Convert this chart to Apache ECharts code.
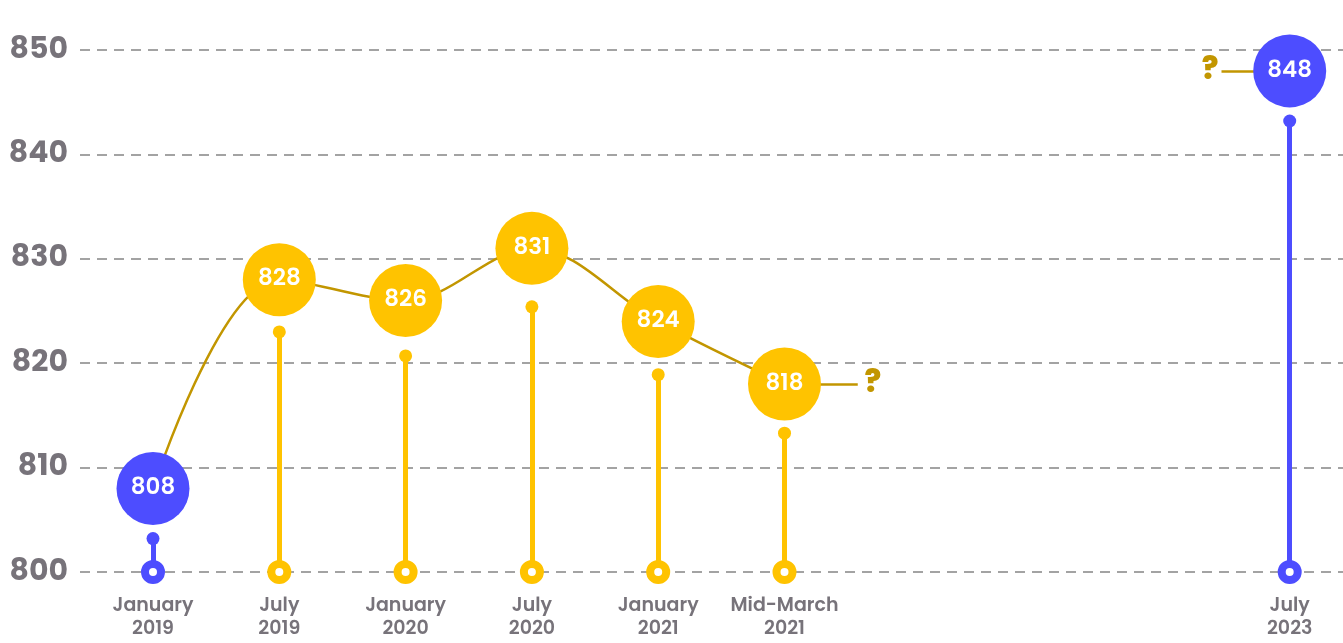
<!DOCTYPE html>
<html>
<head>
<meta charset="utf-8">
<script src="https://cdn.jsdelivr.net/npm/echarts@6/dist/echarts.min.js"></script>
<style>
  html, body { margin: 0; padding: 0; background: #fff; }
  #chart { width: 1343px; height: 643px; }
</style>
</head>
<body>
<div id="chart"></div>
<script>
  // data
  const categories = ['January\n2019', 'July\n2019', 'January\n2020', 'July\n2020', 'January\n2021', 'Mid-March\n2021', 'July\n2023'];
  const slots = [0, 1, 2, 3, 4, 5, 9];
  const values = [808, 828, 826, 831, 824, 818, 848];
  const stemTops = [803.2, 823, 820.7, 825.4, 818.9, 813.3, 843.2];
  const kinds = ['blue', 'gold', 'gold', 'gold', 'gold', 'gold', 'blue'];
  const yTicks = [800, 810, 820, 830, 840, 850];
  // the two open-ended "?" links
  const openLinks = [[[5, 818], [5.58, 818]], [[8.46, 848], [9, 848]]];
  const questionMarks = [[5.7, 818], [8.37, 848]];

  const BLUE = '#4d4dff';
  const GOLD = '#ffc300';
  const LINE = '#c29600';
  const GREY = '#77737a';
  const FONT = 'Poppins, Inter, "Noto Sans", sans-serif';

  const colorOf = k => (k === 'blue' ? BLUE : GOLD);

  const chart = echarts.init(document.getElementById('chart'));

  const option = {
    animation: false,
    grid: { left: 80, right: 0, top: 50, bottom: 71 },
    xAxis: {
      type: 'value',
      min: -0.578,
      max: 9.422,
      axisLine: { show: false },
      axisTick: { show: false },
      splitLine: { show: false },
      axisLabel: {
        customValues: slots,
        formatter: v => categories[slots.indexOf(Math.round(v))] || '',
        color: GREY,
        fontFamily: FONT,
        fontSize: 19,
        fontWeight: 600,
        lineHeight: 23,
        margin: 23
      }
    },
    yAxis: {
      type: 'value',
      min: yTicks[0],
      max: yTicks[yTicks.length - 1],
      interval: 10,
      axisLine: { show: false },
      axisTick: { show: false },
      axisLabel: {
        color: GREY,
        fontFamily: FONT,
        fontSize: 30,
        fontWeight: 700,
        margin: 12
      },
      splitLine: {
        lineStyle: { color: '#a3a3a3', width: 2, type: [10, 7] }
      }
    },
    series: [
      {
        // stems
        type: 'lines',
        coordinateSystem: 'cartesian2d',
        z: 2,
        silent: true,
        data: slots.map((x, i) => ({
          coords: [[x, 800], [x, stemTops[i]]],
          lineStyle: { color: colorOf(kinds[i]), width: 5, opacity: 1 }
        }))
      },
      {
        // dot at stem top
        type: 'scatter',
        z: 3,
        symbolSize: 13,
        data: slots.map((x, i) => ({
          value: [x, stemTops[i]],
          itemStyle: { color: colorOf(kinds[i]), opacity: 1 }
        }))
      },
      {
        // ring at the baseline
        type: 'scatter',
        z: 4,
        symbolSize: 16,
        data: slots.map((x, i) => ({
          value: [x, 800],
          itemStyle: { color: '#fff', borderColor: colorOf(kinds[i]), borderWidth: 8, opacity: 1 }
        }))
      },
      {
        // trend line
        type: 'line',
        z: 5,
        smooth: 0.35,
        symbol: 'none',
        lineStyle: { color: LINE, width: 2.5 },
        data: slots.slice(0, 6).map((x, i) => [x, values[i]])
      },
      {
        type: 'lines',
        coordinateSystem: 'cartesian2d',
        z: 5,
        silent: true,
        lineStyle: { color: LINE, width: 2.5, opacity: 1 },
        data: openLinks.map(c => ({ coords: c }))
      },
      {
        type: 'scatter',
        z: 6,
        symbolSize: 1,
        itemStyle: { color: 'rgba(0,0,0,0)', opacity: 1 },
        label: {
          show: true,
          position: 'inside',
          formatter: '?',
          color: LINE,
          fontFamily: FONT,
          fontSize: 31,
          fontWeight: 800
        },
        data: questionMarks
      },
      {
        // value bubbles
        type: 'scatter',
        z: 10,
        symbolSize: 73,
        label: {
          show: true,
          position: 'inside',
          formatter: p => p.value[1],
          color: '#fff',
          fontFamily: FONT,
          fontSize: 23,
          fontWeight: 600
        },
        data: slots.map((x, i) => ({
          value: [x, values[i]],
          itemStyle: { color: colorOf(kinds[i]), opacity: 1 }
        }))
      }
    ]
  };

  chart.setOption(option);
</script>
</body>
</html>
